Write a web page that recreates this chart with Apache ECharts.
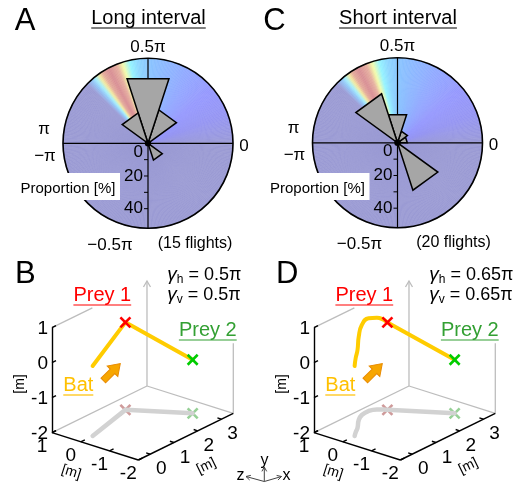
<!DOCTYPE html>
<html><head><meta charset="utf-8">
<script src="https://cdn.jsdelivr.net/npm/echarts@6/dist/echarts.min.js"></script>
<style>html,body{margin:0;padding:0;background:#fff}#c{width:523px;height:484px}</style>
</head><body><div id="c"></div>
<script>
// ---------------- DATA ----------------
// Rose histograms (bin centres in units of pi, proportion in %)
const binCentersPi = [0.1, 0.3, 0.5, 0.7, 0.9, -0.9, -0.7, -0.5, -0.3, -0.1];
const longIntervalPct  = [0, 21.5, 41.5, 19.5, 0, 0, 0, 0, 10.8, 0];
const shortIntervalPct = [6, 7.5, 18.0, 31.5, 0, 0, 0, 0, 30.5, 0];
const radialTickLabels = [0, 20, 40];
const radialMinorTicks = [10, 20, 30, 40];
const angleTickLabels = ['0.5π', 'π', '−π', '0', '−0.5π'];
const flightsLong = '(15 flights)';
const flightsShort = '(20 flights)';

// 3D trajectories (x, y=height, z) in metres
const xTicks = [0, 1, 2, 3];
const zTicks = [1, 0, -1, -2];
const yTicks = [1, 0, -1, -2];
const longPathX = [0, 1.9, 2.83];
const longPathY = [0, 0.5, -0.47];
const longPathZ = [0, 0.43, -1.14];
const shortPathX = [0, 0.2, 0.46, 0.9, 1.21, 1.53, 1.75, 1.86, 1.9, 2.83];
const shortPathY = [0, 0.12, 0.23, 0.38, 0.57, 0.65, 0.62, 0.56, 0.5, -0.47];
const shortPathZ = [0, 0.13, 0.28, 0.6, 0.75, 0.78, 0.67, 0.52, 0.43, -1.14];
const gammaLong = '0.5π';
const gammaShort = '0.65π';

// ---------------- LAYOUT / STYLE ----------------
const W = 523, H = 484;
const FONT = "'Liberation Sans', Arial, Helvetica, sans-serif";
const RMAX = 52;
const POLAR_CENTERS = [[148, 143.3], [397.5, 142.8]];
const BG_STOPS = [
  [0, [155,155,212]], [5, [153,153,222]], [20, [150,150,242]], [40, [150,152,254]],
  [62, [146,170,255]], [88, [138,194,255]], [97, [142,214,255]], [103, [150,244,255]],
  [108, [245,252,170]], [112, [230,175,160]], [118, [216,142,148]], [123, [228,170,155]],
  [126, [245,236,160]], [129, [165,240,252]], [132, [146,196,248]], [136, [155,155,212]],
  [360, [155,155,212]]
];
function colorAt(a) {
  for (let i = 0; i < BG_STOPS.length - 1; i++) {
    const [a0, c0] = BG_STOPS[i], [a1, c1] = BG_STOPS[i + 1];
    if (a >= a0 && a <= a1) {
      const t = (a - a0) / (a1 - a0);
      const c = c0.map((v, k) => Math.round(v + (c1[k] - v) * t));
      return 'rgb(' + c.join(',') + ')';
    }
  }
  return 'rgb(155,155,212)';
}

const mctx = document.createElement('canvas').getContext('2d');
function tw(t, s) { mctx.font = s + 'px ' + FONT; return mctx.measureText(t).width; }

// ---------------- POLAR RENDERERS ----------------
const bgData = [];
for (let a = 0; a < 360; a++) bgData.push([RMAX, a]);
function bgRender(params, api) {
  const cs = params.coordSys;
  const a = api.value(1);
  const col = colorAt(a + 0.5);
  return { type: 'sector', shape: { cx: cs.cx, cy: cs.cy, r0: 0, r: cs.r,
      startAngle: -(a + 1) * Math.PI / 180, endAngle: -a * Math.PI / 180, clockwise: true },
    style: { fill: col, stroke: col, lineWidth: 0.6 } };
}
function frameRender(params, api) {
  const cs = params.coordSys;
  const p0 = api.coord([RMAX, 0]), p90 = api.coord([RMAX, 90]);
  const p180 = api.coord([RMAX, 180]), p270 = api.coord([RMAX, 270]);
  const ch = [
    { type: 'line', shape: { x1: p180[0], y1: p180[1], x2: p0[0], y2: p0[1] }, style: { stroke: '#000', lineWidth: 1.2 } },
    { type: 'line', shape: { x1: p90[0], y1: p90[1], x2: p270[0], y2: p270[1] }, style: { stroke: '#000', lineWidth: 1.2 } },
    { type: 'circle', shape: { cx: cs.cx, cy: cs.cy, r: cs.r }, style: { fill: null, stroke: '#000', lineWidth: 1.6 } }
  ];
  radialMinorTicks.forEach(v => {
    const p = api.coord([v, 270]);
    ch.push({ type: 'line', shape: { x1: p[0] - 4, y1: p[1], x2: p[0], y2: p[1] }, style: { stroke: '#000', lineWidth: 1 } });
  });
  return { type: 'group', children: ch };
}
function triRender(params, api) {
  const a = api.value(0), v = api.value(1);
  if (!(v > 0)) return null;
  const c = api.coord([0, a]);
  const p1 = api.coord([v, a - 18]), p2 = api.coord([v, a + 18]);
  return { type: 'polygon', shape: { points: [c, p1, p2] },
    style: { fill: '#a6a6a6', stroke: '#000', lineWidth: 1.5, lineJoin: 'miter' } };
}
function dotRender(params, api) {
  const c = api.coord([0, 0]);
  const ch = [{ type: 'circle', shape: { cx: c[0], cy: c[1], r: 3.2 }, style: { fill: '#000' } }];
  radialTickLabels.forEach(v => {
    const p = api.coord([v, 270]);
    ch.push({ type: 'text', x: p[0] - 5, y: p[1] + (v === 0 ? 9 : 0),
      style: { text: String(v), fill: '#000', fontSize: 17, fontFamily: FONT, align: 'right', verticalAlign: 'middle' } });
  });
  return { type: 'group', children: ch };
}

// ---------------- 3D PROJECTION ----------------
const BOX = { xMin: -0.5, xMax: 3.5, yMin: -2, yMax: 1, zMin: -2, zMax: 1 };
const EX = [23.75, -11.675], EZ = [-28.77, -9.1], EYV = -35;
function proj(o, x, y, z) {
  const a = x - BOX.xMin, b = z - BOX.zMin, c = y - BOX.yMin;
  return [o[0] + a * EX[0] + b * EZ[0], o[1] + a * EX[1] + b * EZ[1] + c * EYV];
}
const ORIGINS = [[138.3, 460], [400.3, 460]];

const series = [];
const graphics = [];

function gText(x, y, text, size, extra) {
  const el = { type: 'text', x: x, y: y, z: 101, silent: true,
    style: { text: text, fill: '#000', fontSize: size, fontFamily: FONT, align: 'center', verticalAlign: 'middle' } };
  if (extra) { Object.assign(el.style, extra.style || {}); if (extra.rotation) el.rotation = extra.rotation; }
  return el;
}
function gLine(x1, y1, x2, y2, color, w) {
  return { type: 'line', z: 101, silent: true, shape: { x1, y1, x2, y2 }, style: { stroke: color, lineWidth: w } };
}
function underlined(x, y, text, size, color) {
  graphics.push(gText(x, y, text, size, { style: { fill: color } }));
  const w = tw(text, size);
  graphics.push(gLine(x - w / 2, y + size * 0.5, x + w / 2, y + size * 0.5, color, 1.2));
}

// ---------------- POLAR PANELS ----------------
[[longIntervalPct, 'A', 'Long interval', flightsLong, 47], [shortIntervalPct, 'C', 'Short interval', flightsShort, 56]].forEach((cfg, pi) => {
  const vals = cfg[0];
  const base = { type: 'custom', coordinateSystem: 'polar', polarIndex: pi, silent: true, animation: false };
  series.push(Object.assign({}, base, { z: 1, renderItem: bgRender, data: bgData }));
  series.push(Object.assign({}, base, { z: 2, renderItem: frameRender, data: [[0, 0]] }));
  series.push(Object.assign({}, base, { z: 3, renderItem: triRender,
    data: binCentersPi.map((c, i) => [((c * 180) + 360) % 360, vals[i]]) }));
  series.push(Object.assign({}, base, { z: 4, renderItem: dotRender, data: [[0, 0]] }));
  const [cx, cy] = POLAR_CENTERS[pi];
  const offs = [[0, -96], [-104, -14], [-103, 13], [96, 3], [-38, 102]];
  angleTickLabels.forEach((t, i) => graphics.push(gText(cx + offs[i][0], cy + offs[i][1], t, 17)));
  graphics.push(gText(cx + cfg[4], cy + 100, cfg[3], 16));
  graphics.push({ type: 'rect', z: 100, silent: true, shape: { x: cx - 132, y: 173, width: 104, height: 27 }, style: { fill: '#fff' } });
  graphics.push(gText(cx - 80, 189, 'Proportion [%]', 15));
  graphics.push(gText(cx - 123, 21, cfg[1], 31));
  underlined(cx + 0.5, 18, cfg[2], 20, '#000');
});

// ---------------- 3D PANELS ----------------
const grayEdges = [
  [[BOX.xMin, BOX.yMin, BOX.zMax], [BOX.xMax, BOX.yMin, BOX.zMax]],
  [[BOX.xMax, BOX.yMin, BOX.zMax], [BOX.xMax, BOX.yMin, BOX.zMin]],
  [[BOX.xMax, BOX.yMin, BOX.zMax], [BOX.xMax, BOX.yMax, BOX.zMax]],
  [[BOX.xMax, BOX.yMin, BOX.zMin], [BOX.xMax, 0, BOX.zMin]],
  [[BOX.xMin, BOX.yMax, BOX.zMax], [1.2, BOX.yMax, BOX.zMax]]
];
const blackEdges = [
  [[BOX.xMin, BOX.yMin, BOX.zMax], [BOX.xMin, BOX.yMax, BOX.zMax]],
  [[BOX.xMin, BOX.yMin, BOX.zMax], [BOX.xMin, BOX.yMin, BOX.zMin]],
  [[BOX.xMin, BOX.yMin, BOX.zMin], [BOX.xMax, BOX.yMin, BOX.zMin]]
];

function xMarkRender(items) {
  return function (params, api) {
    const it = items[api.value(0)];
    const p = api.coord(it.pos);
    const s = 5;
    return { type: 'group', children: [
      { type: 'line', shape: { x1: p[0] - s, y1: p[1] - s, x2: p[0] + s, y2: p[1] + s }, style: { stroke: it.color, lineWidth: 2.6 } },
      { type: 'line', shape: { x1: p[0] - s, y1: p[1] + s, x2: p[0] + s, y2: p[1] - s }, style: { stroke: it.color, lineWidth: 2.6 } }
    ] };
  };
}
function labelRender(items) {
  return function (params, api) {
    const it = items[api.value(0)];
    const p = api.coord(it.pos);
    return { type: 'text', x: p[0] + it.dx, y: p[1] + it.dy,
      style: { text: it.text, fill: '#000', fontSize: 19, fontFamily: FONT, align: it.align, verticalAlign: 'middle' } };
  };
}

[[longPathX, longPathY, longPathZ, gammaLong, 'B', false], [shortPathX, shortPathY, shortPathZ, gammaShort, 'D', 0.5]].forEach((cfg, k) => {
  const o = ORIGINS[k];
  const pr = (x, y, z) => proj(o, x, y, z);
  const [PX, PY, PZ] = cfg;
  const n = PX.length;
  const base = { coordinateSystem: 'cartesian2d', xAxisIndex: 0, yAxisIndex: 0, silent: true, animation: false };
  // gray box edges
  const top = pr(BOX.xMax, BOX.yMax, BOX.zMax);
  series.push(Object.assign({}, base, { type: 'lines', z: 1, polyline: true,
    lineStyle: { color: '#bdbdbd', width: 1.3, opacity: 1, curveness: 0 },
    data: grayEdges.map(e => ({ coords: [pr(...e[0]), pr(...e[1])] })).concat([
      { coords: [[top[0] - 3.5, top[1] + 6], top, [top[0] + 3.5, top[1] + 6]] }]) }));
  // shadow path on floor
  const shadow = PX.map((x, i) => pr(x, BOX.yMin, PZ[i]));
  series.push(Object.assign({}, base, { type: 'line', z: 2, data: shadow, showSymbol: false, smooth: cfg[5],
    lineStyle: { color: '#d2d2d2', width: 4.5, cap: 'round', join: 'round' }, clip: false }));
  // black axes + ticks
  const tickSegs = [];
  yTicks.forEach(y => tickSegs.push({ coords: [pr(BOX.xMin, y, BOX.zMax), pr(BOX.xMin + 0.17, y, BOX.zMax)] }));
  zTicks.forEach(z => tickSegs.push({ coords: [pr(BOX.xMin, BOX.yMin, z), pr(BOX.xMin + 0.17, BOX.yMin, z)] }));
  xTicks.forEach(x => tickSegs.push({ coords: [pr(x, BOX.yMin, BOX.zMin), pr(x, BOX.yMin, BOX.zMin + 0.14)] }));
  series.push(Object.assign({}, base, { type: 'lines', z: 3,
    lineStyle: { color: '#000', width: 1.4, opacity: 1, curveness: 0 },
    data: blackEdges.map(e => ({ coords: [pr(...e[0]), pr(...e[1])] })).concat(tickSegs) }));
  // tick labels
  const labels = [];
  yTicks.forEach(y => labels.push({ pos: pr(BOX.xMin, y, BOX.zMax), text: String(y), dx: -4, dy: 1, align: 'right' }));
  zTicks.forEach(z => labels.push({ pos: pr(BOX.xMin, BOX.yMin, z), text: String(z), dx: -10, dy: 14, align: 'center' }));
  xTicks.forEach(x => labels.push({ pos: pr(x, BOX.yMin, BOX.zMin), text: String(x), dx: 11, dy: 15, align: 'center' }));
  series.push(Object.assign({}, base, { type: 'custom', z: 3, renderItem: labelRender(labels), data: labels.map((_, i) => [i, 0]) }));
  // shadow X marks
  const p1 = n - 2, p2 = n - 1;
  const shadowX = [{ pos: pr(PX[p1], BOX.yMin, PZ[p1]), color: '#cf9a9a' }, { pos: pr(PX[p2], BOX.yMin, PZ[p2]), color: '#96d096' }];
  series.push(Object.assign({}, base, { type: 'custom', z: 2, renderItem: xMarkRender(shadowX), data: [[0, 0], [1, 0]] }));
  // bat trajectory
  series.push(Object.assign({}, base, { type: 'line', z: 5, data: PX.map((x, i) => pr(x, PY[i], PZ[i])), showSymbol: false, smooth: cfg[5],
    lineStyle: { color: '#ffcc00', width: 4, cap: 'round', join: 'round' }, clip: false }));
  const preyX = [{ pos: pr(PX[p1], PY[p1], PZ[p1]), color: '#ff0000' }, { pos: pr(PX[p2], PY[p2], PZ[p2]), color: '#00cc00' }];
  series.push(Object.assign({}, base, { type: 'custom', z: 6, renderItem: xMarkRender(preyX), data: [[0, 0], [1, 0]] }));

  // annotations
  graphics.push(gText(o[0] - 113, 274, cfg[4], 31));
  underlined(o[0] - 36, 295, 'Prey 1', 20, '#ff0000');
  underlined(o[0] + 69.5, 330, 'Prey 2', 20, '#33a033');
  underlined(o[0] - 60, 385, 'Bat', 20, '#ffc000');
  const rich = { g: { fontSize: 19, fontFamily: FONT, fontStyle: 'italic' }, s: { fontSize: 12, fontFamily: FONT, padding: [9, 0, 0, 0] }, n: { fontSize: 18, fontFamily: FONT } };
  graphics.push({ type: 'text', x: o[0] + 29, y: 275, z: 101, silent: true, style: { text: '{g|γ}{s|h}{n| = ' + cfg[3] + '}', rich: rich, align: 'left', verticalAlign: 'middle', fill: '#000' } });
  graphics.push({ type: 'text', x: o[0] + 29, y: 295, z: 101, silent: true, style: { text: '{g|γ}{s|v}{n| = ' + cfg[3] + '}', rich: rich, align: 'left', verticalAlign: 'middle', fill: '#000' } });
  // orange arrow
  graphics.push({ type: 'polygon', z: 101, silent: true, x: o[0] - 26.5, y: 372, rotation: Math.PI / 4,
    shape: { points: [[-12, -3.2], [1, -3.2], [1, -7.5], [12, 0], [1, 7.5], [1, 3.2], [-12, 3.2]] },
    style: { fill: '#f7a600', stroke: '#e88a00', lineWidth: 1 } });
  // axis unit labels
  graphics.push(gText(o[0] - 118, 384, '[m]', 14, { rotation: Math.PI / 2 }));
  graphics.push(gText(o[0] - 67, 472, '[m]', 14, { rotation: -0.305 }));
  graphics.push(gText(o[0] + 68, 466, '[m]', 14, { rotation: 0.454 }));
});

// orientation triad
(function () {
  const ox = 264.3, oy = 481.5, c = '#444';
  [[264.3, 467], [246, 476.5], [281.5, 476.5]].forEach(p => {
    graphics.push(gLine(ox, oy, p[0], p[1], c, 1));
    const ang = Math.atan2(p[1] - oy, p[0] - ox);
    [0.5, -0.5].forEach(d => {
      graphics.push(gLine(p[0], p[1], p[0] - 5 * Math.cos(ang + d), p[1] - 5 * Math.sin(ang + d), c, 1));
    });
  });
  graphics.push(gText(264.5, 461, 'y', 16));
  graphics.push(gText(240.5, 475.5, 'z', 16));
  graphics.push(gText(286.5, 475.5, 'x', 16));
})();

const option = {
  animation: false,
  backgroundColor: '#fff',
  polar: POLAR_CENTERS.map(c => ({ center: c, radius: 85 })),
  angleAxis: [0, 1].map(i => ({ polarIndex: i, type: 'value', min: 0, max: 360, startAngle: 0, clockwise: false,
    axisLine: { show: false }, axisTick: { show: false }, axisLabel: { show: false }, splitLine: { show: false } })),
  radiusAxis: [0, 1].map(i => ({ polarIndex: i, type: 'value', min: 0, max: RMAX,
    axisLine: { show: false }, axisTick: { show: false }, axisLabel: { show: false }, splitLine: { show: false } })),
  grid: { left: 0, top: 0, width: W, height: H, show: false },
  xAxis: { type: 'value', min: 0, max: W, show: false },
  yAxis: { type: 'value', min: 0, max: H, inverse: true, show: false },
  series: series,
  graphic: { elements: graphics }
};
const chart = echarts.init(document.getElementById('c'));
chart.setOption(option);
</script>
</body></html>
